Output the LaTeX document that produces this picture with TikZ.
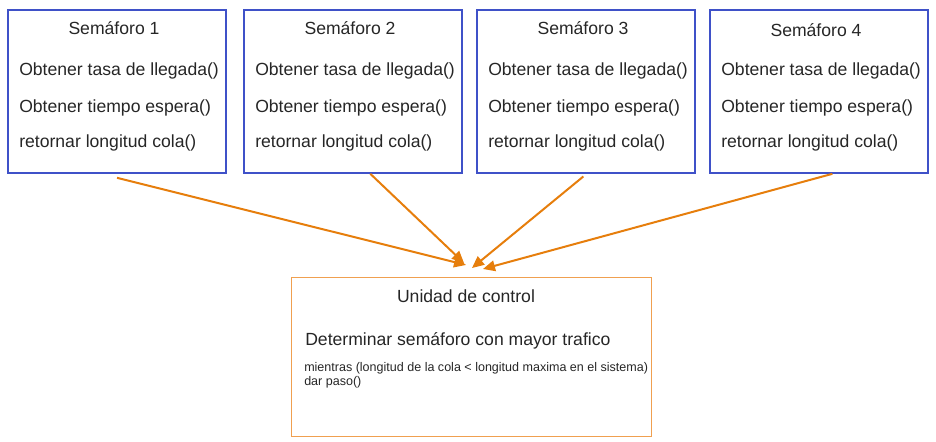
\documentclass[tikz,border=0pt]{standalone}
\usepackage{fontspec}
\setmainfont{Liberation Sans}
\usetikzlibrary{arrows.meta}
\definecolor{azul}{HTML}{3F51C8}
\definecolor{naranja}{HTML}{E67E0C}
\definecolor{naranjaclaro}{HTML}{F0A050}
\tikzset{
    semaforo/.style={draw=azul, line width=1.5pt, minimum width=164pt, minimum height=122pt, inner sep=0pt},
    unidad/.style={draw=naranjaclaro, line width=0.9pt, minimum width=270pt, minimum height=119pt, inner sep=0pt},
    texto/.style={inner sep=0pt, text=black!85, font=\fontsize{13.2}{16}\selectfont},
    chico/.style={inner sep=0pt, text=black!85, font=\fontsize{9.4}{10.6}\selectfont, align=left},
    flecha/.style={draw=naranja, line width=1.5pt, -{Triangle[length=9pt,width=8pt]}}
}
\begin{document}
\begin{tikzpicture}[x=0.75pt,y=-0.75pt]
    \useasboundingbox (0,0) rectangle (936,442);
    % Semaforos:
    % one box per traffic light, the three methods set on the left
    \foreach \i/\x/\dy in {1/7/0,2/243/0,3/476/0,4/709/2}
    {
        \node[semaforo] (s\i) at (\x+110,91.5) {};
        \node[texto] (t\i) at (\x+107,28+\dy) {Semáforo \i};
        \node[texto, anchor=west] (a\i) at (\x+12,71) {Obtener tasa de llegada()};
        \node[texto, anchor=west] (b\i) at (\x+12,108) {Obtener tiempo espera()};
        \node[texto, anchor=west] (c\i) at (\x+12,143) {retornar longitud cola()};
    }
    % Unidad de control:
    \node[unidad] (uc) at (471.5,357) {};
    \node[texto] (ucname) at (466,296) {Unidad de control};
    \node[texto, anchor=west] (det) at (305,341) {Determinar semáforo con mayor trafico};
    \node[chico, anchor=north west] (mien) at (304,362) {mientras (longitud de la cola < longitud maxima en el sistema)\\dar paso()};
    % Flechas:
    \coordinate (e1) at (466,265);
    \coordinate (e2) at (464,263);
    \coordinate (e3) at (472,268);
    \coordinate (e4) at (483,269);
    \draw[flecha] ([yshift=-3pt]s1.south) -- (e1);
    \draw[flecha] ([xshift=13pt]s2.south) -- (e2);
    \draw[flecha] ([xshift=-2pt,yshift=-2pt]s3.south) -- (e3);
    \draw[flecha] ([xshift=10pt]s4.south) -- (e4);
\end{tikzpicture}
\end{document}
